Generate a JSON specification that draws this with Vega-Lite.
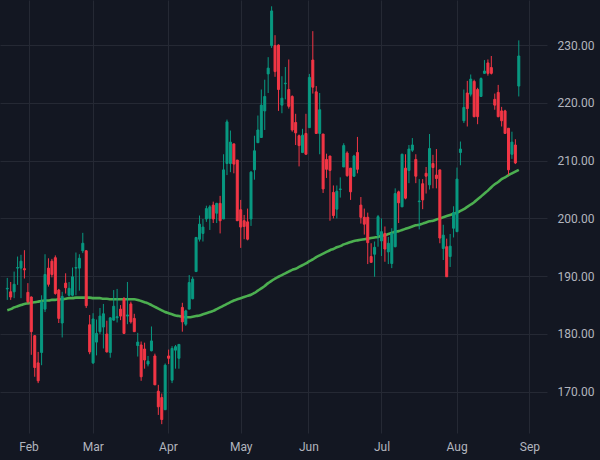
{
  "$schema": "https://vega.github.io/schema/vega-lite/v6.json",
  "width": 547,
  "height": 433,
  "autosize": "none",
  "padding": {"left": 0, "top": 0, "right": 53, "bottom": 27},
  "background": "#131722",
  "config": {
    "view": {"stroke": null},
    "axis": {"labelFont": "Roboto", "labelFontSize": 12, "labelColor": "#b2b5be", "gridColor": "#252934", "gridOpacity": 1, "domain": false, "ticks": false, "title": null}
  },
  "data": {
    "values": [
      {"i":0,"open":187.8,"high":189.7,"low":185.9,"close":187.9,"ma":184.1},
      {"i":1,"open":187.3,"high":189.0,"low":185.9,"close":186.4,"ma":184.3},
      {"i":2,"open":187.3,"high":190.8,"low":186.2,"close":188.6,"ma":184.6},
      {"i":3,"open":191.4,"high":193.4,"low":188.5,"close":191.5,"ma":184.8},
      {"i":4,"open":191.4,"high":193.7,"low":186.2,"close":192.6,"ma":185.0},
      {"i":5,"open":191.3,"high":194.5,"low":189.6,"close":191.1,"ma":185.2},
      {"i":6,"open":187.2,"high":188.8,"low":185.3,"close":185.6,"ma":185.3},
      {"i":7,"open":186.4,"high":186.5,"low":176.4,"close":180.4,"ma":185.4},
      {"i":8,"open":179.7,"high":179.8,"low":172.6,"close":174.2,"ma":185.5},
      {"i":9,"open":175.0,"high":176.9,"low":171.5,"close":171.9,"ma":185.6},
      {"i":10,"open":176.8,"high":186.7,"low":174.6,"close":185.5,"ma":185.7},
      {"i":11,"open":184.3,"high":193.8,"low":183.8,"close":190.3,"ma":185.8},
      {"i":12,"open":191.4,"high":193.1,"low":188.2,"close":188.6,"ma":185.8},
      {"i":13,"open":192.6,"high":193.0,"low":189.8,"close":190.3,"ma":185.9},
      {"i":14,"open":193.2,"high":193.6,"low":186.8,"close":187.0,"ma":185.9},
      {"i":15,"open":187.6,"high":187.8,"low":181.9,"close":182.7,"ma":186.0},
      {"i":16,"open":181.9,"high":187.3,"low":179.4,"close":186.5,"ma":186.0},
      {"i":17,"open":188.8,"high":190.5,"low":187.0,"close":188.0,"ma":186.1},
      {"i":18,"open":186.7,"high":189.0,"low":186.5,"close":187.9,"ma":186.2},
      {"i":19,"open":186.7,"high":191.5,"low":186.5,"close":189.9,"ma":186.2},
      {"i":20,"open":191.4,"high":194.1,"low":186.7,"close":191.5,"ma":186.3},
      {"i":21,"open":191.4,"high":193.8,"low":187.5,"close":193.1,"ma":186.3},
      {"i":22,"open":194.4,"high":197.5,"low":194.0,"close":195.7,"ma":186.3},
      {"i":23,"open":194.4,"high":194.5,"low":184.5,"close":184.9,"ma":186.3},
      {"i":24,"open":181.6,"high":183.3,"low":176.5,"close":176.9,"ma":186.3},
      {"i":25,"open":175.0,"high":183.6,"low":174.8,"close":182.6,"ma":186.2},
      {"i":26,"open":178.6,"high":182.5,"low":176.3,"close":180.1,"ma":186.2},
      {"i":27,"open":180.4,"high":184.5,"low":180.0,"close":183.1,"ma":186.2},
      {"i":28,"open":181.2,"high":185.2,"low":177.5,"close":183.5,"ma":186.1},
      {"i":29,"open":180.0,"high":182.3,"low":176.8,"close":176.9,"ma":186.1},
      {"i":30,"open":176.8,"high":182.9,"low":175.9,"close":182.8,"ma":186.0},
      {"i":31,"open":182.4,"high":187.6,"low":182.3,"close":184.8,"ma":186.0},
      {"i":32,"open":182.8,"high":187.8,"low":182.0,"close":183.0,"ma":186.0},
      {"i":33,"open":184.3,"high":185.0,"low":182.4,"close":183.1,"ma":186.0},
      {"i":34,"open":186.1,"high":186.4,"low":180.0,"close":180.1,"ma":186.0},
      {"i":35,"open":183.1,"high":189.0,"low":181.7,"close":183.3,"ma":186.0},
      {"i":36,"open":185.2,"high":185.6,"low":181.8,"close":182.1,"ma":186.0},
      {"i":37,"open":182.7,"high":183.5,"low":180.4,"close":180.4,"ma":186.0},
      {"i":38,"open":178.0,"high":180.2,"low":176.1,"close":178.6,"ma":185.9},
      {"i":39,"open":178.1,"high":178.7,"low":171.9,"close":172.6,"ma":185.7},
      {"i":40,"open":177.4,"high":178.5,"low":174.0,"close":175.5,"ma":185.5},
      {"i":41,"open":174.8,"high":176.2,"low":174.4,"close":175.3,"ma":185.3},
      {"i":42,"open":177.1,"high":181.3,"low":177.0,"close":178.8,"ma":185.0},
      {"i":43,"open":176.2,"high":176.6,"low":171.2,"close":171.2,"ma":184.7},
      {"i":44,"open":170.1,"high":171.2,"low":166.0,"close":167.4,"ma":184.4},
      {"i":45,"open":169.0,"high":169.7,"low":164.4,"close":165.2,"ma":184.1},
      {"i":46,"open":166.9,"high":174.9,"low":166.9,"close":174.6,"ma":183.8},
      {"i":47,"open":176.2,"high":177.3,"low":174.8,"close":175.8,"ma":183.6},
      {"i":48,"open":172.0,"high":177.9,"low":171.5,"close":177.5,"ma":183.4},
      {"i":49,"open":177.2,"high":178.1,"low":174.0,"close":177.8,"ma":183.2},
      {"i":50,"open":175.8,"high":178.2,"low":174.0,"close":178.2,"ma":183.1},
      {"i":51,"open":184.6,"high":185.4,"low":180.4,"close":182.1,"ma":183.0},
      {"i":52,"open":181.7,"high":184.2,"low":181.4,"close":184.0,"ma":182.9},
      {"i":53,"open":184.3,"high":190.2,"low":184.3,"close":188.9,"ma":182.9},
      {"i":54,"open":186.1,"high":189.9,"low":186.0,"close":189.5,"ma":183.0},
      {"i":55,"open":190.8,"high":196.8,"low":190.8,"close":196.7,"ma":183.1},
      {"i":56,"open":196.4,"high":200.5,"low":196.0,"close":199.0,"ma":183.2},
      {"i":57,"open":197.4,"high":199.9,"low":196.0,"close":198.5,"ma":183.4},
      {"i":58,"open":199.9,"high":202.2,"low":199.4,"close":201.7,"ma":183.6},
      {"i":59,"open":200.0,"high":202.3,"low":198.0,"close":202.0,"ma":183.8},
      {"i":60,"open":202.3,"high":202.9,"low":199.2,"close":199.9,"ma":184.0},
      {"i":61,"open":200.9,"high":202.7,"low":199.2,"close":202.6,"ma":184.3},
      {"i":62,"open":202.6,"high":203.9,"low":197.4,"close":199.6,"ma":184.6},
      {"i":63,"open":199.9,"high":211.1,"low":199.9,"close":208.4,"ma":184.9},
      {"i":64,"open":209.5,"high":217.1,"low":207.5,"close":216.7,"ma":185.2},
      {"i":65,"open":209.5,"high":215.2,"low":208.0,"close":213.2,"ma":185.5},
      {"i":66,"open":212.9,"high":212.9,"low":207.8,"close":209.4,"ma":185.8},
      {"i":67,"open":210.1,"high":210.1,"low":199.6,"close":199.6,"ma":186.0},
      {"i":68,"open":201.5,"high":203.2,"low":194.9,"close":198.5,"ma":186.2},
      {"i":69,"open":199.6,"high":200.6,"low":196.4,"close":198.6,"ma":186.4},
      {"i":70,"open":199.4,"high":201.7,"low":196.2,"close":196.4,"ma":186.6},
      {"i":71,"open":199.9,"high":208.2,"low":198.7,"close":208.0,"ma":186.8},
      {"i":72,"open":208.4,"high":214.3,"low":206.7,"close":211.7,"ma":187.1},
      {"i":73,"open":213.1,"high":217.8,"low":213.1,"close":215.3,"ma":187.5},
      {"i":74,"open":214.0,"high":222.3,"low":214.0,"close":219.6,"ma":187.9},
      {"i":75,"open":218.6,"high":224.0,"low":215.3,"close":221.1,"ma":188.3},
      {"i":76,"open":225.0,"high":227.9,"low":221.7,"close":226.0,"ma":188.8},
      {"i":77,"open":229.9,"high":236.7,"low":229.5,"close":235.9,"ma":189.2},
      {"i":78,"open":229.9,"high":231.7,"low":224.5,"close":225.4,"ma":189.6},
      {"i":79,"open":230.0,"high":230.1,"low":218.6,"close":222.3,"ma":189.9},
      {"i":80,"open":219.6,"high":224.6,"low":218.2,"close":220.8,"ma":190.2},
      {"i":81,"open":223.3,"high":226.2,"low":220.6,"close":223.4,"ma":190.5},
      {"i":82,"open":222.3,"high":227.5,"low":219.0,"close":219.4,"ma":190.8},
      {"i":83,"open":221.1,"high":221.3,"low":215.0,"close":215.3,"ma":191.1},
      {"i":84,"open":216.6,"high":218.1,"low":212.7,"close":214.8,"ma":191.3},
      {"i":85,"open":214.3,"high":214.5,"low":209.0,"close":212.6,"ma":191.6},
      {"i":86,"open":211.4,"high":215.5,"low":211.3,"close":214.4,"ma":191.9},
      {"i":87,"open":214.7,"high":218.1,"low":211.1,"close":211.1,"ma":192.2},
      {"i":88,"open":215.7,"high":225.0,"low":215.7,"close":224.4,"ma":192.6},
      {"i":89,"open":227.4,"high":232.4,"low":221.6,"close":222.7,"ma":192.9},
      {"i":90,"open":221.9,"high":222.9,"low":214.6,"close":214.7,"ma":193.3},
      {"i":91,"open":214.7,"high":221.7,"low":211.1,"close":218.8,"ma":193.6},
      {"i":92,"open":214.6,"high":214.6,"low":204.4,"close":205.1,"ma":193.9},
      {"i":93,"open":210.2,"high":211.2,"low":207.0,"close":208.5,"ma":194.2},
      {"i":94,"open":210.8,"high":210.8,"low":199.6,"close":208.3,"ma":194.5},
      {"i":95,"open":204.5,"high":205.7,"low":200.0,"close":200.5,"ma":194.7},
      {"i":96,"open":201.6,"high":205.7,"low":200.0,"close":204.7,"ma":195.0},
      {"i":97,"open":205.0,"high":207.1,"low":203.6,"close":205.1,"ma":195.2},
      {"i":98,"open":208.9,"high":213.0,"low":208.9,"close":212.6,"ma":195.5},
      {"i":99,"open":211.3,"high":211.6,"low":207.2,"close":207.4,"ma":195.7},
      {"i":100,"open":208.7,"high":208.7,"low":203.2,"close":204.6,"ma":195.9},
      {"i":101,"open":207.3,"high":211.0,"low":207.2,"close":210.8,"ma":196.1},
      {"i":102,"open":211.4,"high":214.1,"low":207.8,"close":208.5,"ma":196.2},
      {"i":103,"open":202.3,"high":203.7,"low":199.1,"close":200.2,"ma":196.3},
      {"i":104,"open":200.2,"high":201.7,"low":197.2,"close":199.0,"ma":196.4},
      {"i":105,"open":200.2,"high":201.0,"low":192.1,"close":195.8,"ma":196.5},
      {"i":106,"open":193.4,"high":195.7,"low":192.4,"close":192.4,"ma":196.6},
      {"i":107,"open":193.8,"high":196.0,"low":189.9,"close":195.0,"ma":196.7},
      {"i":108,"open":197.1,"high":200.6,"low":195.1,"close":200.3,"ma":196.8},
      {"i":109,"open":196.1,"high":200.0,"low":193.5,"close":197.7,"ma":197.0},
      {"i":110,"open":197.4,"high":198.6,"low":192.5,"close":194.7,"ma":197.1},
      {"i":111,"open":194.2,"high":196.8,"low":192.1,"close":195.7,"ma":197.3},
      {"i":112,"open":192.2,"high":198.3,"low":191.4,"close":197.4,"ma":197.5},
      {"i":113,"open":195.1,"high":205.2,"low":195.0,"close":204.3,"ma":197.7},
      {"i":114,"open":204.6,"high":204.8,"low":199.2,"close":202.7,"ma":197.8},
      {"i":115,"open":202.0,"high":211.2,"low":202.0,"close":211.1,"ma":198.0},
      {"i":116,"open":208.7,"high":211.1,"low":203.3,"close":203.5,"ma":198.2},
      {"i":117,"open":208.3,"high":212.7,"low":206.1,"close":212.0,"ma":198.4},
      {"i":118,"open":211.8,"high":213.9,"low":211.5,"close":212.7,"ma":198.6},
      {"i":119,"open":210.2,"high":211.1,"low":206.1,"close":207.3,"ma":198.8},
      {"i":120,"open":202.9,"high":206.8,"low":198.1,"close":203.0,"ma":198.9},
      {"i":121,"open":206.0,"high":206.8,"low":201.6,"close":203.2,"ma":199.1},
      {"i":122,"open":207.8,"high":208.9,"low":204.3,"close":207.3,"ma":199.3},
      {"i":123,"open":205.8,"high":214.6,"low":205.0,"close":212.1,"ma":199.5},
      {"i":124,"open":209.5,"high":211.0,"low":205.2,"close":208.8,"ma":199.6},
      {"i":125,"open":207.5,"high":212.0,"low":205.2,"close":206.9,"ma":199.8},
      {"i":126,"open":208.4,"high":208.4,"low":195.7,"close":196.6,"ma":200.0},
      {"i":127,"open":194.8,"high":198.9,"low":192.8,"close":197.1,"ma":200.2},
      {"i":128,"open":195.1,"high":196.5,"low":189.9,"close":189.9,"ma":200.4},
      {"i":129,"open":193.4,"high":197.3,"low":191.6,"close":195.2,"ma":200.6},
      {"i":130,"open":198.3,"high":202.1,"low":196.7,"close":201.0,"ma":200.8},
      {"i":131,"open":197.7,"high":208.8,"low":197.7,"close":206.8,"ma":201.0},
      {"i":132,"open":211.4,"high":213.3,"low":209.2,"close":212.0,"ma":201.3},
      {"i":133,"open":216.9,"high":222.3,"low":216.5,"close":219.2,"ma":201.6},
      {"i":134,"open":221.7,"high":223.8,"low":215.9,"close":219.0,"ma":202.0},
      {"i":135,"open":221.5,"high":224.9,"low":221.1,"close":224.1,"ma":202.4},
      {"i":136,"open":223.7,"high":224.0,"low":217.5,"close":217.6,"ma":202.8},
      {"i":137,"open":222.3,"high":222.6,"low":216.3,"close":217.6,"ma":203.3},
      {"i":138,"open":221.1,"high":224.4,"low":221.1,"close":224.2,"ma":203.8},
      {"i":139,"open":225.1,"high":227.4,"low":225.0,"close":225.5,"ma":204.3},
      {"i":140,"open":226.9,"high":227.5,"low":224.7,"close":225.1,"ma":204.8},
      {"i":141,"open":226.1,"high":228.1,"low":224.9,"close":225.1,"ma":205.4},
      {"i":142,"open":220.6,"high":221.6,"low":218.8,"close":219.6,"ma":205.9},
      {"i":143,"open":221.8,"high":223.1,"low":217.5,"close":217.6,"ma":206.3},
      {"i":144,"open":218.6,"high":219.3,"low":215.9,"close":216.9,"ma":206.8},
      {"i":145,"open":218.6,"high":218.8,"low":214.7,"close":214.7,"ma":207.1},
      {"i":146,"open":215.6,"high":215.6,"low":207.5,"close":208.4,"ma":207.5},
      {"i":147,"open":211.1,"high":215.0,"low":210.3,"close":213.2,"ma":207.8},
      {"i":148,"open":212.7,"high":213.7,"low":209.4,"close":209.6,"ma":208.1},
      {"i":149,"open":222.9,"high":230.8,"low":221.1,"close":228.1,"ma":208.4}
    ]
  },
  "encoding": {
    "x": {
      "field": "i",
      "type": "quantitative",
      "scale": {"domain": [-0.66, 155.76], "nice": false, "zero": false},
      "axis": {
        "values": [6.2, 24.9, 46.8, 68.0, 87.7, 109.0, 130.9, 152.1],
        "labelExpr": "datum.value < 15 ? 'Feb' : datum.value < 35 ? 'Mar' : datum.value < 55 ? 'Apr' : datum.value < 78 ? 'May' : datum.value < 98 ? 'Jun' : datum.value < 120 ? 'Jul' : datum.value < 140 ? 'Aug' : 'Sep'",
        "labelPadding": 8,
        "labelFlush": false,
        "grid": true
      }
    }
  },
  "layer": [
    {
      "mark": {"type": "line", "color": "#4caf50", "strokeWidth": 2.6, "interpolate": "monotone"},
      "encoding": {
        "y": {
          "field": "ma",
          "type": "quantitative",
          "scale": {"domain": [162.87, 237.79], "nice": false, "zero": false},
          "axis": {"orient": "right", "values": [170, 180, 190, 200, 210, 220, 230], "format": ".2f", "labelPadding": 10, "grid": true}
        }
      }
    },
    {
      "mark": {"type": "rule", "strokeWidth": 1},
      "encoding": {
        "y": {"field": "low", "type": "quantitative", "scale": {"domain": [162.87, 237.79], "nice": false, "zero": false}, "axis": {"orient": "right", "values": [170, 180, 190, 200, 210, 220, 230], "format": ".2f", "labelPadding": 10, "grid": true}},
        "y2": {"field": "high"},
        "color": {"condition": {"test": "datum.close >= datum.open", "value": "#089981"}, "value": "#f23645"}
      }
    },
    {
      "mark": {"type": "bar", "orient": "vertical", "size": 2, "strokeWidth": 1},
      "encoding": {
        "y": {"field": "open", "type": "quantitative", "scale": {"domain": [162.87, 237.79], "nice": false, "zero": false}, "axis": {"orient": "right", "values": [170, 180, 190, 200, 210, 220, 230], "format": ".2f", "labelPadding": 10, "grid": true}},
        "y2": {"field": "close"},
        "fill": {"condition": {"test": "datum.close >= datum.open", "value": "#089981"}, "value": "#f23645"},
        "stroke": {"condition": {"test": "datum.close >= datum.open", "value": "#089981"}, "value": "#f23645"}
      }
    }
  ]
}
